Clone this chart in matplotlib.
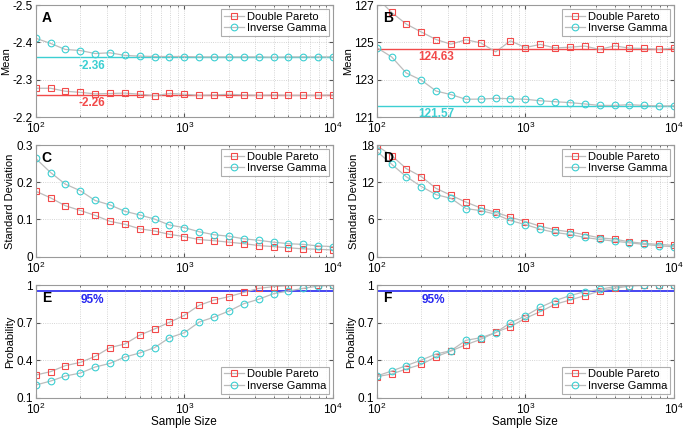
import numpy as np
import matplotlib
matplotlib.use("Agg")
import matplotlib.pyplot as plt

plt.rcParams['font.family'] = ['Liberation Sans', 'DejaVu Sans']

# sample sizes (log spaced, 10^2 .. 10^4)
sample_size = [100, 126, 158, 200, 251, 316, 398, 501, 631, 794, 1000,
               1259, 1585, 1995, 2512, 3162, 3981, 5012, 6310, 7943, 10000]

# A: mean (log data)
mean_a_dp = [-2.277, -2.277, -2.269, -2.266, -2.262, -2.263, -2.264, -2.261, -2.257, -2.263, -2.261,
             -2.258, -2.259, -2.261, -2.259, -2.258, -2.259, -2.258, -2.258, -2.258, -2.259]
mean_a_ig = [-2.411, -2.397, -2.381, -2.378, -2.370, -2.372, -2.365, -2.363, -2.362, -2.362, -2.362,
             -2.361, -2.361, -2.361, -2.361, -2.361, -2.360, -2.361, -2.361, -2.361, -2.361]
ref_a = {'dp': -2.26, 'ig': -2.36}

# B: mean
mean_b_dp = [127.4, 126.6, 125.98, 125.55, 125.15, 124.9, 125.14, 124.97, 124.49, 125.08, 124.72,
             124.89, 124.7, 124.74, 124.8, 124.62, 124.81, 124.69, 124.67, 124.62, 124.7]
mean_b_ig = [124.72, 124.22, 123.36, 122.97, 122.39, 122.2, 121.95, 121.96, 122.0, 121.98, 121.95,
             121.87, 121.82, 121.77, 121.7, 121.62, 121.62, 121.66, 121.62, 121.59, 121.6]
ref_b = {'dp': 124.63, 'ig': 121.57}

# C: standard deviation
sd_c_dp = [0.176, 0.158, 0.137, 0.124, 0.111, 0.095, 0.087, 0.075, 0.069, 0.060, 0.054,
           0.046, 0.043, 0.039, 0.035, 0.030, 0.027, 0.024, 0.021, 0.020, 0.018]
sd_c_ig = [0.264, 0.226, 0.195, 0.177, 0.151, 0.139, 0.122, 0.112, 0.101, 0.085, 0.078,
           0.067, 0.059, 0.055, 0.048, 0.044, 0.039, 0.035, 0.033, 0.029, 0.027]

# D: standard deviation
sd_d_dp = [17.9, 16.3, 14.2, 12.9, 11.0, 9.9, 8.8, 7.85, 7.16, 6.36, 5.66,
           4.91, 4.33, 4.0, 3.53, 3.04, 2.83, 2.4, 2.14, 1.98, 1.82]
sd_d_ig = [17.0, 14.9, 12.9, 11.3, 10.0, 9.4, 7.75, 7.43, 6.84, 5.82, 5.18,
           4.43, 3.9, 3.58, 3.1, 2.78, 2.5, 2.24, 1.98, 1.76, 1.6]

# E, F: probability
prob_e_dp = [0.281, 0.308, 0.356, 0.382, 0.430, 0.500, 0.529, 0.600, 0.649, 0.702, 0.758,
             0.838, 0.880, 0.907, 0.941, 0.973, 0.987, 0.995, 1.0, 1.0, 1.0]
prob_e_ig = [0.201, 0.233, 0.273, 0.297, 0.345, 0.374, 0.425, 0.457, 0.500, 0.579, 0.619,
             0.704, 0.744, 0.792, 0.851, 0.886, 0.931, 0.952, 0.973, 0.992, 0.997]
prob_f_dp = [0.268, 0.289, 0.329, 0.366, 0.428, 0.473, 0.523, 0.566, 0.622, 0.667, 0.734,
             0.787, 0.846, 0.880, 0.915, 0.952, 0.973, 0.992, 0.997, 1.0, 1.0]
prob_f_ig = [0.273, 0.313, 0.356, 0.401, 0.449, 0.476, 0.558, 0.579, 0.619, 0.699, 0.753,
             0.822, 0.875, 0.915, 0.947, 0.965, 0.987, 0.995, 1.0, 1.0, 1.0]
level = 0.95

RED = '#f24a4a'
CYAN = '#3ccfd2'
BLUE = '#2626f0'
GRAY = '#bcbcbc'

fig = plt.figure(figsize=(6.85, 4.28), dpi=100)
W, H = 685, 428
cols = [35.7, 376.7]
rows = [(5, 117), (145, 256.7), (285, 397.7)]
width = 297.3

def make_ax(r, c):
    top, bot = rows[r]
    return fig.add_axes([cols[c] / W, 1 - bot / H, width / W, (bot - top) / H])

def draw(ax, dp, ig, letter, ylim, yticks, ylabel, legend_loc, xlabel=False):
    ax.plot(sample_size, dp, '-', color=GRAY, lw=0.9, marker='s', ms=4.5,
            mfc='none', mec=RED, mew=0.8, label='Double Pareto')
    ax.plot(sample_size, ig, '-', color=GRAY, lw=0.9, marker='o', ms=4.8,
            mfc='none', mec=CYAN, mew=0.8, label='Inverse Gamma')
    ax.set_xscale('log')
    ax.set_xlim(100, 10000)
    ax.set_ylim(*ylim)
    ax.set_yticks(yticks)
    ax.set_yticklabels([('%g' % t) for t in yticks])
    ax.set_ylabel(ylabel, fontsize=8, labelpad=1)
    if xlabel:
        ax.set_xlabel('Sample Size', fontsize=8.5, labelpad=-1)
    ax.tick_params(axis='both', which='both', direction='in', top=True, right=True,
                   labelsize=8.5, colors='#555555', labelcolor='black')
    ax.tick_params(axis='x', pad=3)
    ax.tick_params(axis='y', pad=2)
    ax.tick_params(which='major', length=3)
    ax.tick_params(which='minor', length=1.5)
    ax.grid(True, which='major', axis='both', linestyle=':', color='#c8c8c8', lw=0.6)
    ax.grid(True, which='minor', axis='x', linestyle=':', color='#c8c8c8', lw=0.6)
    for s in ax.spines.values():
        s.set_color('#9a9a9a')
    ax.text(0.02, 0.95, letter, transform=ax.transAxes, fontsize=10,
            fontweight='bold', va='top', ha='left')
    leg = ax.legend(loc=legend_loc, fontsize=8, frameon=True, fancybox=False,
                    edgecolor='#9a9a9a', borderpad=0.25, handlelength=1.8,
                    labelspacing=0.15, handletextpad=0.3, borderaxespad=0.35)
    leg.get_frame().set_linewidth(0.8)

axA = make_ax(0, 0)
draw(axA, mean_a_dp, mean_a_ig, 'A', (-2.2, -2.5), [-2.5, -2.4, -2.3, -2.2], 'Mean', 'upper right')
axA.axhline(ref_a['ig'], color=CYAN, lw=1.0, zorder=1)
axA.axhline(ref_a['dp'], color=RED, lw=1.0, zorder=1)
axA.text(240, ref_a['ig'] + 0.006, '%.2f' % ref_a['ig'], color=CYAN, fontsize=8.5,
         fontweight='bold', ha='center', va='top')
axA.text(240, ref_a['dp'] + 0.006, '%.2f' % ref_a['dp'], color=RED, fontsize=8.5,
         fontweight='bold', ha='center', va='top')

axB = make_ax(0, 1)
draw(axB, mean_b_dp, mean_b_ig, 'B', (121, 127), [121, 123, 125, 127], 'Mean', 'upper right')
axB.axhline(ref_b['dp'], color=RED, lw=1.0, zorder=1)
axB.axhline(ref_b['ig'], color=CYAN, lw=1.0, zorder=1)
axB.text(250, ref_b['dp'] - 0.12, '%.2f' % ref_b['dp'], color=RED, fontsize=8.5,
         fontweight='bold', ha='center', va='top')
axB.text(250, ref_b['ig'] - 0.1, '%.2f' % ref_b['ig'], color=CYAN, fontsize=8.5,
         fontweight='bold', ha='center', va='top')

axC = make_ax(1, 0)
draw(axC, sd_c_dp, sd_c_ig, 'C', (0, 0.3), [0, 0.1, 0.2, 0.3], 'Standard Deviation', 'upper right')

axD = make_ax(1, 1)
draw(axD, sd_d_dp, sd_d_ig, 'D', (0, 18), [0, 6, 12, 18], 'Standard Deviation', 'upper right')

for r, c, dp, ig, letter in [(2, 0, prob_e_dp, prob_e_ig, 'E'), (2, 1, prob_f_dp, prob_f_ig, 'F')]:
    ax = make_ax(r, c)
    draw(ax, dp, ig, letter, (0.1, 1.0), [0.1, 0.4, 0.7, 1.0], 'Probability', 'lower right', xlabel=True)
    ax.axhline(level, color=BLUE, lw=1.2, zorder=1)
    ax.text(240, level - 0.02, '%d%%' % round(level * 100), color=BLUE, fontsize=8.5,
            fontweight='bold', ha='center', va='top')

fig.savefig('out.png', dpi=100)
